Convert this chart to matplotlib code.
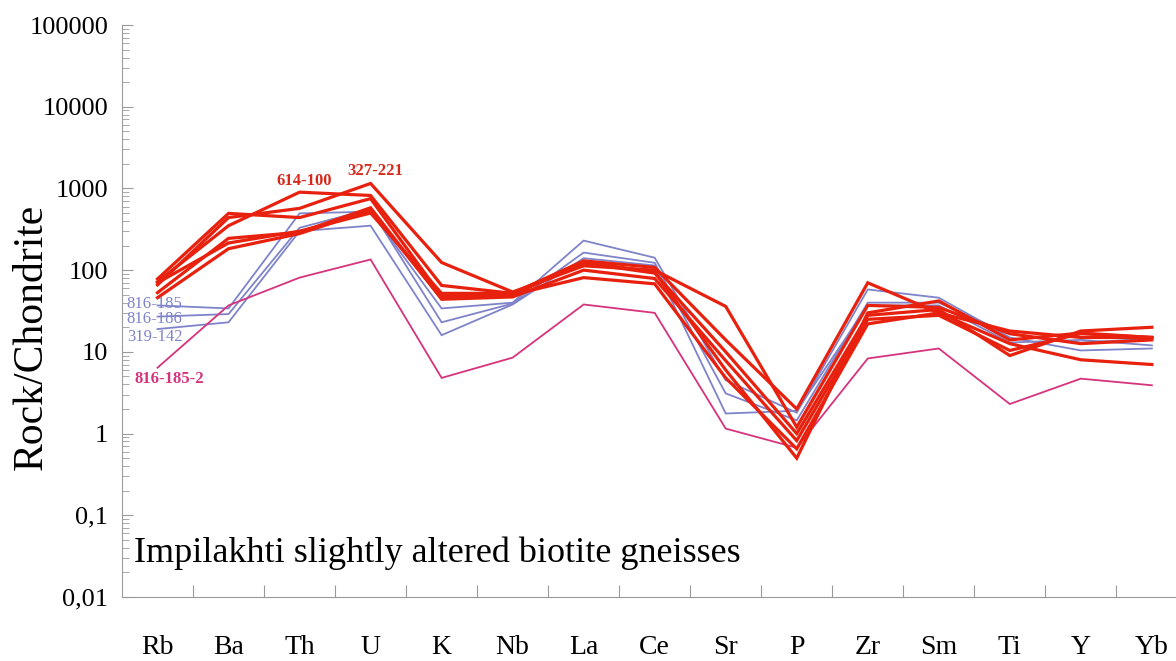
import matplotlib
matplotlib.use("Agg")
import matplotlib.pyplot as plt
from matplotlib.ticker import LogLocator, FixedLocator, NullFormatter

elements = ["Rb", "Ba", "Th", "U", "K", "Nb", "La", "Ce", "Sr", "P", "Zr", "Sm", "Ti", "Y", "Yb"]

# red samples (thick)
red_614_100 = [72, 350, 900, 820, 65, 52, 130, 108, 14, 2.0, 70, 30, 18, 15, 15]
red_327_221 = [66, 440, 570, 1150, 124, 54, 113, 100, 36, 1.2, 37, 35, 16.7, 12.6, 14]
red_a = [78, 495, 440, 750, 48, 50, 122, 92, 10, 1.0, 28, 33, 9, 18, 20]
red_b = [53, 245, 290, 580, 44, 47, 100, 79, 7.8, 0.82, 25, 28, 10.4, 16.7, 15]
red_c = [46, 183, 280, 540, 45, 50, 81, 68, 4.8, 0.65, 22, 30, 12.6, 8, 7]
red_d = [70, 215, 300, 500, 52, 52, 125, 95, 6, 0.5, 30, 42, 14, 17, 15]

# blue samples (thin)
blue_816_185 = [37, 34, 495, 520, 34, 40, 230, 142, 4.5, 1.8, 58, 46, 15, 10.4, 11]
blue_816_186 = [27, 29, 330, 560, 23, 39, 164, 123, 3.1, 1.45, 40, 40, 16.5, 13, 14.5]
blue_319_142 = [19, 23, 300, 350, 16, 38, 140, 114, 1.76, 1.9, 37, 37, 13, 14, 12]

# pink sample
pink_816_185_2 = [6.4, 37, 81, 135, 4.8, 8.5, 38, 30, 1.15, 0.67, 8.3, 11, 2.3, 4.7, 3.9]

ytick_vals = [0.01, 0.1, 1, 10, 100, 1000, 10000, 100000]
ytick_labels = ["0,01", "0,1", "1", "10", "100", "1000", "10000", "100000"]

RED = "#e8210e"
BLUE = "#7f83c9"
PINK = "#d6337c"
GRID = "#9a9a9a"
SERIF = ["Liberation Serif", "DejaVu Serif"]

fig = plt.figure(figsize=(11.76, 6.61), dpi=100)
ax = fig.add_axes([122 / 1176, 64 / 661, 1 - 122 / 1176, (597 - 25) / 661])

x = list(range(len(elements)))
for s in [blue_816_185, blue_816_186, blue_319_142]:
    ax.plot(x, s, color=BLUE, lw=1.3, solid_joinstyle="miter", zorder=2)
ax.plot(x, pink_816_185_2, color=PINK, lw=1.3, solid_joinstyle="miter", zorder=2)
for s in [red_a, red_b, red_c, red_d, red_614_100, red_327_221]:
    ax.plot(x, s, color=RED, lw=2.3, solid_joinstyle="miter", zorder=3)

ax.set_yscale("log")
ax.set_ylim(0.01, 100000)
ax.set_xlim(-0.5, 14.34)

ax.yaxis.set_major_locator(FixedLocator(ytick_vals))
ax.set_yticklabels(ytick_labels, fontsize=19, family=SERIF)
ax.yaxis.set_minor_locator(LogLocator(base=10, subs=range(2, 10), numticks=20))
ax.yaxis.set_minor_formatter(NullFormatter())
ax.tick_params(axis="y", which="major", direction="in", length=8, color=GRID, width=0.8, pad=10)
ax.tick_params(axis="y", which="minor", direction="in", length=5, color=GRID, width=0.6)

ax.set_xticks(x)
ax.set_xticklabels(elements, fontsize=20, family=SERIF)
ax.tick_params(axis="x", which="major", length=0, pad=27)
ax.set_xticks([i + 0.5 for i in range(len(elements) - 1)], minor=True)
ax.tick_params(axis="x", which="minor", direction="in", length=9, color=GRID, width=0.8)

for sp in ["top", "right"]:
    ax.spines[sp].set_visible(False)
for sp in ["left", "bottom"]:
    ax.spines[sp].set_color(GRID)
    ax.spines[sp].set_linewidth(0.8)

ax.set_ylabel("Rock/Chondrite", fontsize=30, family=SERIF)
ax.yaxis.set_label_coords(-0.068, 0.455)

ax.text(-0.33, 0.034, "Impilakhti slightly altered biotite gneisses", fontsize=26,
        family=SERIF, ha="left", va="center")

lab = dict(family=SERIF, fontsize=12, ha="center", va="center")
ax.text(2.07, 1250, "614-100", color="#d8281a", fontweight="bold", **lab)
ax.text(3.06, 1650, "327-221", color="#d8281a", fontweight="bold", **lab)
ax.text(-0.04, 39, "816-185", color=BLUE, **lab)
ax.text(-0.04, 25.5, "816-186", color=BLUE, **lab)
ax.text(-0.04, 15.4, "319-142", color=BLUE, **lab)
ax.text(0.17, 4.6, "816-185-2", color=PINK, fontweight="bold", **lab)

fig.savefig("out.png", dpi=100)
